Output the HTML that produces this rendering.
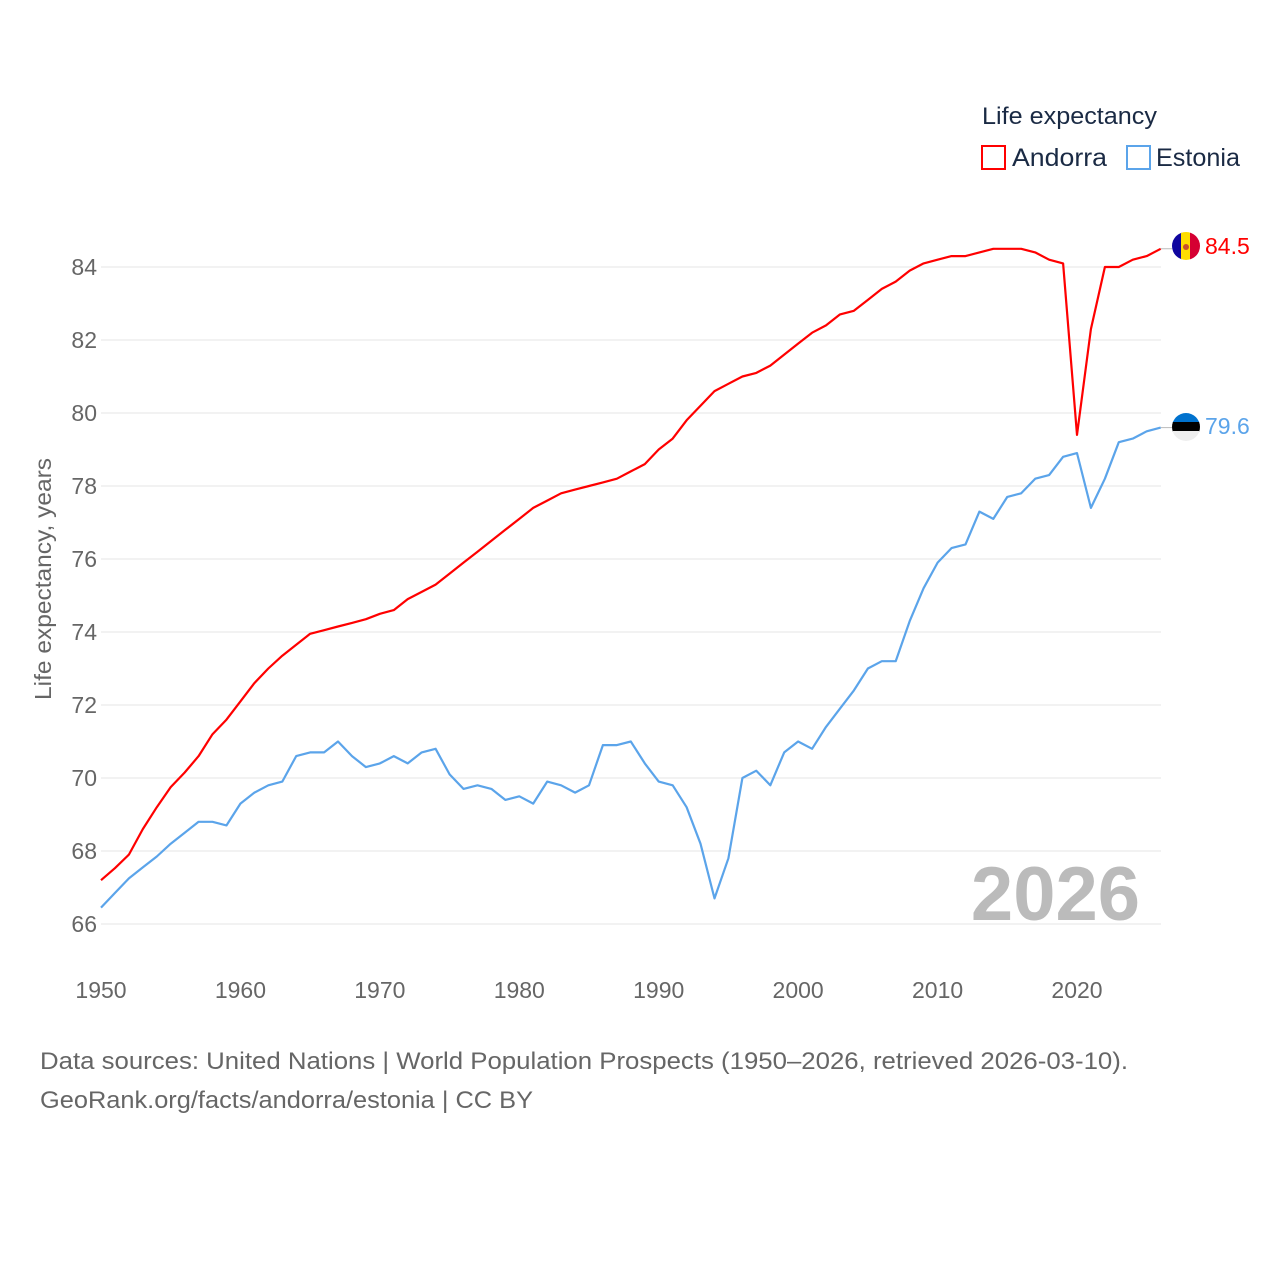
<!DOCTYPE html>
<html><head><meta charset="utf-8">
<style>
html,body{margin:0;padding:0;background:#fff;}
body{width:1280px;height:1280px;position:relative;font-family:"Liberation Sans",sans-serif;}
svg text{font-family:"Liberation Sans",sans-serif;}
</style></head>
<body>
<svg id="chart" width="1280" height="1280" xmlns="http://www.w3.org/2000/svg">
  <g id="grid"></g>
  <g id="yticks"></g>
  <g id="xticks"></g>
  <text transform="translate(51,579) rotate(-90)" text-anchor="middle" font-size="23" fill="#666" textLength="242" lengthAdjust="spacingAndGlyphs">Life expectancy, years</text>
  <text x="1140" y="920" text-anchor="end" font-size="76" font-weight="bold" fill="#bbb">2026</text>
  <g id="series"></g>
  <g>
    <text x="982" y="124" font-size="24" fill="#1a2a44" textLength="175" lengthAdjust="spacingAndGlyphs">Life expectancy</text>
    <g>
      <rect x="982" y="146" width="23" height="23" fill="none" stroke="#f00" stroke-width="2"/>
      <text x="1012" y="166" font-size="25" fill="#1a2a44" textLength="95" lengthAdjust="spacingAndGlyphs">Andorra</text>
    </g>
    <g>
      <rect x="1127" y="146" width="23" height="23" fill="none" stroke="#5ba4ea" stroke-width="2"/>
      <text x="1156" y="166" font-size="25" fill="#1a2a44" textLength="84" lengthAdjust="spacingAndGlyphs">Estonia</text>
    </g>
  </g>
  <defs>
    <clipPath id="c1"><circle cx="1186" cy="246" r="14"/></clipPath>
    <clipPath id="c2"><circle cx="1186" cy="427" r="14"/></clipPath>
  </defs>
  <g clip-path="url(#c1)">
    <rect x="1172" y="232" width="10" height="28" fill="#10069f"/>
    <rect x="1181" y="232" width="10" height="28" fill="#fedd00"/>
    <rect x="1190" y="232" width="10" height="28" fill="#d50032"/>
    <circle cx="1186" cy="247" r="3" fill="#c7502b"/>
  </g>
  <g clip-path="url(#c2)">
    <rect x="1172" y="413" width="28" height="10" fill="#0072ce"/>
    <rect x="1172" y="422" width="28" height="10" fill="#000"/>
    <rect x="1172" y="431" width="28" height="10" fill="#eee"/>
  </g>
  <text id="lblA" x="1205" y="254" font-size="23" fill="#f00">84.5</text>
  <text id="lblE" x="1205" y="434" font-size="23" fill="#5ba4ea">79.6</text>
  <text x="40" y="1069" font-size="24" fill="#666" textLength="1088" lengthAdjust="spacingAndGlyphs">Data sources: United Nations | World Population Prospects (1950–2026, retrieved 2026-03-10).</text>
  <text x="40" y="1108" font-size="24" fill="#666" textLength="493" lengthAdjust="spacingAndGlyphs">GeoRank.org/facts/andorra/estonia | CC BY</text>
</svg>
<script>
const years = Array.from({length:77},(_,i)=>1950+i);
const andorra = [67.2,67.53,67.9,68.6,69.2,69.75,70.15,70.6,71.2,71.6,72.1,72.6,73.0,73.35,73.65,73.95,74.05,74.15,74.25,74.35,74.5,74.6,74.9,75.1,75.3,75.6,75.9,76.2,76.5,76.8,77.1,77.4,77.6,77.8,77.9,78.0,78.1,78.2,78.4,78.6,79.0,79.3,79.8,80.2,80.6,80.8,81.0,81.1,81.3,81.6,81.9,82.2,82.4,82.7,82.8,83.1,83.4,83.6,83.9,84.1,84.2,84.3,84.3,84.4,84.5,84.5,84.5,84.4,84.2,84.1,79.4,82.3,84.0,84.0,84.2,84.3,84.5];
const estonia = [66.45,66.85,67.25,67.55,67.85,68.2,68.5,68.8,68.8,68.7,69.3,69.6,69.8,69.9,70.6,70.7,70.7,71.0,70.6,70.3,70.4,70.6,70.4,70.7,70.8,70.1,69.7,69.8,69.7,69.4,69.5,69.3,69.9,69.8,69.6,69.8,70.9,70.9,71.0,70.4,69.9,69.8,69.2,68.2,66.7,67.8,70.0,70.2,69.8,70.7,71.0,70.8,71.4,71.9,72.4,73.0,73.2,73.2,74.3,75.2,75.9,76.3,76.4,77.3,77.1,77.7,77.8,78.2,78.3,78.8,78.9,77.4,78.2,79.2,79.3,79.5,79.6];
const yTicks = [66,68,70,72,74,76,78,80,82,84];
const xTicks = [1950,1960,1970,1980,1990,2000,2010,2020];
const NS='http://www.w3.org/2000/svg';
const xs = y => 101 + (y-1950)*(976/70);
const ys = v => 924 - (v-66)*36.5;
function mk(tag, attrs, parent, txt){const e=document.createElementNS(NS,tag);for(const k in attrs)e.setAttribute(k,attrs[k]);if(txt!==undefined)e.textContent=txt;parent.appendChild(e);return e;}
const grid=document.getElementById('grid'), yt=document.getElementById('yticks'), xt=document.getElementById('xticks'), ser=document.getElementById('series');
yTicks.forEach(v=>{
  const l=mk('line',{x1:101,x2:1161,y1:ys(v),y2:ys(v),stroke:'#e6e6e6','stroke-width':1},grid);
  
  
  const t=mk('text',{x:97,y:ys(v)+8,'text-anchor':'end','font-size':23,fill:'#666'},yt,String(v));
  
  
});
xTicks.forEach(v=>{
  const t=mk('text',{x:xs(v),y:998,'text-anchor':'middle','font-size':23,fill:'#666'},xt,String(v));
  
  
});
function line(vals,color,name){
  const d=vals.map((v,i)=>(i?'L':'M')+xs(years[i]).toFixed(1)+','+ys(v).toFixed(1)).join('');
  const p=mk('path',{d:d,fill:'none',stroke:color,'stroke-width':2.2,'stroke-linejoin':'round'},ser);
  
  
  const last=vals[vals.length-1];
  const c=mk('line',{x1:xs(years[years.length-1]),x2:1172,y1:ys(last),y2:ys(last),stroke:'#bbb','stroke-width':1},ser);
  
  
}
line(andorra,'#f00','andorra-line');
line(estonia,'#5ba4ea','estonia-line');
document.getElementById('lblA').textContent=andorra[andorra.length-1].toFixed(1);
document.getElementById('lblE').textContent=estonia[estonia.length-1].toFixed(1);
</script>
</body></html>
